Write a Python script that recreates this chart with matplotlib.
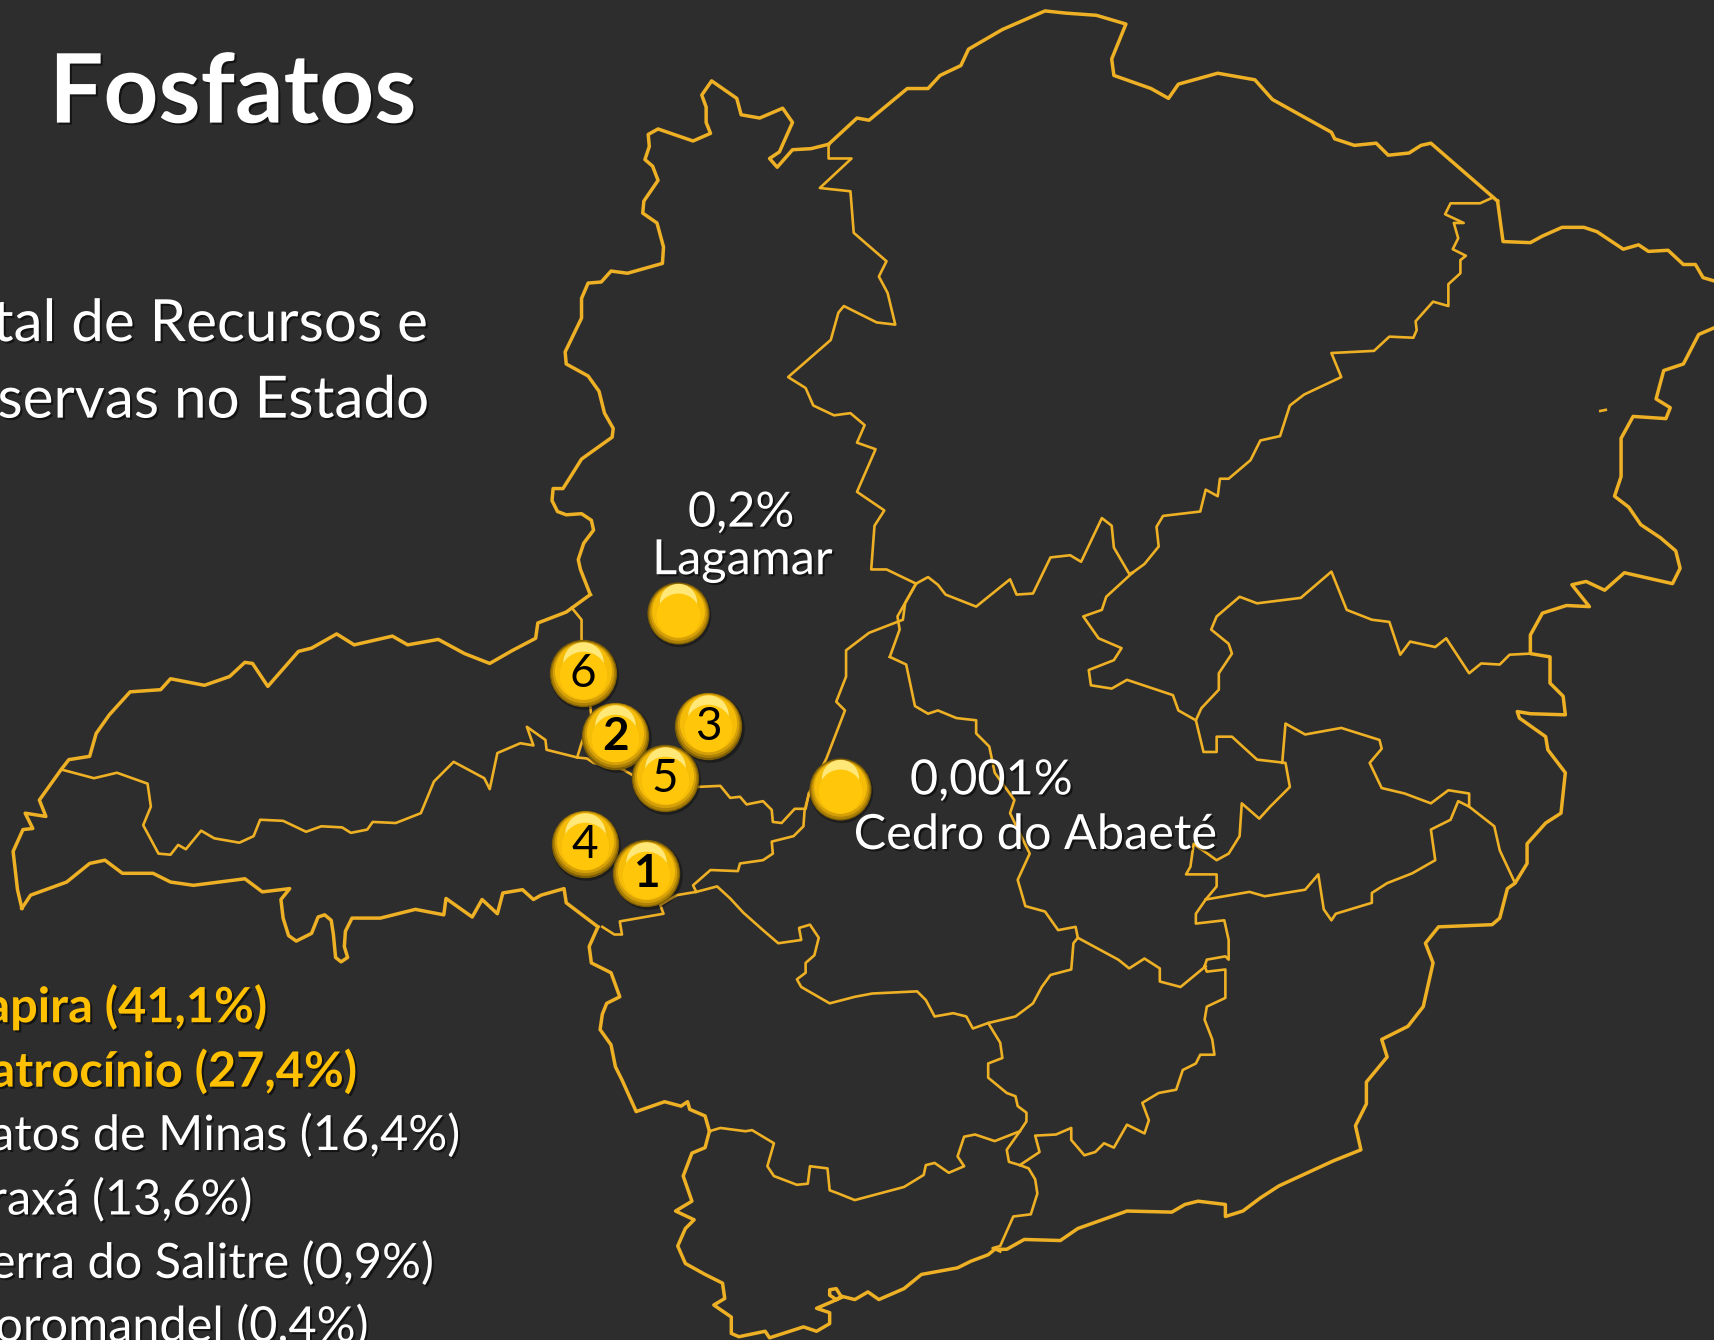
import matplotlib
matplotlib.use('Agg')
import matplotlib.pyplot as plt
import matplotlib.patheffects as pe

west_border = [(540,544),(531,521),(529,512),(534,497),(543,485),(541,476),(532,470),(518,471),(510,468),(505,458),(506,447),(515,447),(522,436),(532,420),(560,400),(561,392),(553,378),(548,358),(538,344),(518,333),(517,322),(532,291),(532,273),(538,259),(550,258),(559,248),(574,250),(606,241),(607,226),(601,204),(588,195),(589,184),(602,165),(597,152),(590,146),(594,134),(593,123),(602,118),(634,129),(650,122),(646,112),(646,98),(642,87),(651,74),(674,90),(678,105),(695,108),(716,99),(725,112),(713,139),(704,145),(711,153),(725,137),(742,136),(758,132)]
north_border = [(758,132),(784,108),(795,110),(830,81),(849,81),(860,69),(879,60),(886,45),(917,27),(956,10),(975,12),(1003,14),(1030,22),(1017,54),(1019,69),(1053,81),(1069,90),(1078,77),(1114,67),(1148,73),(1164,91),(1218,121),(1221,127),(1239,133),(1259,131),(1270,142),(1289,140),(1300,133),(1309,131),(1370,184)]
ne_border = [(1370,184),(1375,221),(1400,222),(1411,216),(1429,208),(1449,208),(1461,212),(1485,228),(1499,224),(1508,230),(1526,229),(1540,242),(1551,242),(1558,254),(1568,257)]
east_border = [(1568,300),(1554,306),(1540,333),(1522,339),(1515,365),(1528,373),(1524,383),(1494,381),(1483,401),(1483,436),(1477,454),(1490,464),(1501,480),(1519,492),(1533,504),(1537,520),(1530,534),(1486,524),(1468,540),(1451,532),(1438,535),(1454,555),(1433,554),(1411,561),(1400,581),(1400,598),(1418,601),(1418,625),(1430,637),(1432,654),(1400,653),(1388,651),(1390,657),(1414,674),(1416,686),(1432,707),(1428,744),(1414,753),(1397,772),(1397,790),(1386,808),(1379,813),(1372,840),(1365,846),(1316,848),(1304,863),(1311,881),(1302,921),(1288,939),(1264,951),(1269,967),(1250,990),(1250,1010),(1240,1030),(1245,1052),(1220,1062),(1170,1085),(1153,1096),(1137,1108),(1121,1113),(1121,1102),(1096,1099),(1084,1102),(1072,1109),(1031,1108),(986,1124),(970,1135),(937,1134),(921,1143),(910,1143)]
south_border = [(910,1143),(904,1148),(888,1154),(876,1160),(843,1166),(827,1179),(804,1189),(794,1182),(782,1189),(770,1186),(765,1189),(759,1185),(759,1180),(765,1179),(770,1187),(761,1191),(747,1197),(759,1201),(759,1211),(747,1218),(735,1214),(704,1224),(700,1218),(676,1223),(669,1220),(669,1205),(653,1194),(663,1188),(661,1174),(645,1166),(627,1156),(620,1140),(627,1124),(635,1116),(618,1108),(633,1099),(625,1076),(633,1055),(645,1050),(649,1035)]
sw_border = [(649,1035),(645,1021),(631,1015),(629,1008),(623,1012),(608,1008),(582,1017),(569,988),(563,976),(559,956),(549,942),(551,928),(555,918),(567,912),(559,890),(541,881),(539,866),(547,848)]
triangle_south = [(547,848),(518,826),(516,813),(495,819),(488,823),(478,814),(460,817),(455,836),(441,823),(432,839),(408,822),(406,837),(380,832),(348,840),(322,840),(316,852),(315,866),(318,876),(312,880),(307,876),(305,855),(303,842),(297,837),(291,839),(285,854),(271,861),(264,856),(259,840),(257,823),(265,813),(240,816),(224,804),(177,810),(156,807),(140,799),(112,799),(96,787),(82,790),(61,807),(28,819),(20,831)]
triangle_north = [(20,831),(16,814),(12,779),(21,759),(30,758),(23,744),(42,747),(36,732),(56,704),(63,695),(82,692),(88,671),(100,654),(119,633),(147,631),(156,621),(187,627),(210,619),(224,606),(231,607),(245,628),(273,596),(285,593),(308,580),(324,590),(359,582),(373,590),(401,585),(425,598),(448,607),(469,595),(490,584),(492,570),(518,560),(540,544)]
triangle_inner = [(56,704),(86,712),(107,707),(135,717),(138,738),(131,755),(145,781),(156,782),(163,773),(170,777),(184,760),(196,767),(219,771),(232,765),(238,750),(259,751),(280,761),(294,756),(313,757),(321,762),(336,759),(341,752),(362,753),(385,744),(397,715),(415,697),(443,712),(448,722),(455,689),(476,680),(488,682),(482,665),(499,677),(500,686),(528,693),(537,694),(543,698),(570,704),(580,710),(637,720),(659,719),(668,730),(677,729),(683,736),(698,733),(706,741),(707,752),(715,753),(727,740),(737,740),(740,726)]
triangle_branch = [(523,556),(532,567),(532,585),(540,646),(541,656),(532,680),(528,693)]
sao_francisco = [(838,534),(828,552),(826,567),(795,579),(774,595),(774,619),(765,642),(773,650),(756,694),(740,726),(736,742),(735,756),(726,765),(706,770),(707,781),(698,787),(677,790),(675,797),(650,796),(634,810),(637,816),(619,819),(604,828),(607,836),(567,843),(569,855),(562,855),(551,848)]
center_west = [(637,816),(656,811),(668,822),(680,835),(698,851),(712,863),(733,860),(731,849),(741,846),(749,858),(745,874),(737,881),(737,890),(729,896),(733,903),(759,918),(782,912),(798,909),(839,907),(847,915),(855,930),(872,927),(884,930),(890,941),(904,936),(929,930),(945,918),(953,903),(961,892),(980,887),(982,863),(986,858)]
south_divide = [(904,936),(915,954),(917,968),(904,973),(904,986),(921,1000),(929,1003),(931,1012),(939,1018),(939,1026),(933,1035),(921,1052),(923,1063),(933,1066),(941,1069),(947,1079),(949,1092),(943,1111),(927,1113),(915,1140),(908,1142),(915,1145)]
south_inner = [(649,1035),(659,1032),(682,1035),(688,1034),(708,1046),(702,1067),(708,1076),(729,1084),(739,1083),(741,1067),(757,1069),(759,1089),(767,1092),(782,1098),(827,1086),(845,1075),(847,1066),(855,1064),(868,1073),(882,1067),(876,1058),(882,1040),(892,1038),(910,1044),(933,1035)]
zona_mata = [(933,1066),(951,1054),(947,1039),(966,1038),(980,1032),(980,1043),(992,1057),(1002,1054),(1010,1046),(1019,1050),(1031,1029),(1047,1037),(1051,1025),(1045,1009),(1060,1000),(1076,997),(1082,979),(1094,973),(1098,965),(1111,965),(1109,951),(1102,933),(1104,921),(1121,913),(1121,887),(1104,889),(1102,884)]
center_east = [(814,601),(829,608),(837,646),(849,653),(858,650),(875,657),(893,659),(893,671),(905,683),(910,707),(928,732),(924,744),(942,781),(931,805),(938,829),(956,834),(968,851),(984,848),(986,858),(1023,878),(1033,886),(1047,877),(1061,886),(1061,898),(1080,903),(1103,884)]
center_east_top = [(838,534),(821,564),(823,576),(814,601)]
noroeste_east = [(758,132),(758,145),(779,145),(750,172),(778,175),(781,213),(811,239),(804,253),(812,268),(819,297),(802,295),(772,280),(767,286),(760,311),(721,345),(737,355),(744,371),(763,380),(778,378),(791,389),(784,405),(801,411),(784,450),(809,467),(800,481),(797,521),(811,521),(838,534)]
jequitinhonha_south = [(838,534),(849,528),(858,535),(865,544),(893,555),(924,530),(930,544),(945,543),(961,510),(979,508),(989,514),(1008,474),(1017,481),(1019,501),(1033,525),(1036,524)]
jequitinhonha_east = [(1036,524),(1047,516),(1060,500),(1058,482),(1064,472),(1098,468),(1103,448),(1114,454),(1116,438),(1124,438),(1144,421),(1153,403),(1171,399),(1180,371),(1193,361),(1227,345),(1218,323),(1257,321),(1271,308),(1293,309),(1296,302),(1295,294),(1311,276),(1325,280),(1325,260),(1336,250),(1336,238),(1341,234),(1329,228),(1334,218),(1330,204),(1339,204),(1322,196),(1327,186),(1354,186),(1365,181)]
central_east = [(1036,524),(1012,546),(1008,558),(991,564),(1005,584),(1026,593),(1019,604),(996,613),(998,627),(1017,630),(1031,622),(1073,636),(1078,650),(1094,659),(1101,688),(1113,688),(1113,674),(1127,674),(1150,695),(1176,698),(1180,720),(1162,738),(1152,749),(1136,735),(1134,765),(1124,781),(1113,787),(1092,772),(1089,793),(1085,800),(1113,800),(1113,811),(1103,823),(1094,836),(1094,845),(1120,842),(1124,860),(1124,878),(1121,875),(1104,878),(1102,884)]
doce_north = [(1094,659),(1099,648),(1115,631),(1115,616),(1127,598),(1124,589),(1108,576),(1113,564),(1134,546),(1150,552),(1190,547),(1218,523),(1232,558),(1255,567),(1271,569),(1281,599),(1290,587),(1313,592),(1323,584),(1344,616),(1355,607),(1372,608),(1381,599),(1400,598)]
doce_inner = [(1173,698),(1176,662),(1194,672),(1227,666),(1262,677),(1264,685),(1253,698),(1264,721),(1285,726),(1309,735),(1325,723),(1344,726),(1344,738),(1334,733),(1327,750),(1309,759),(1313,787),(1292,799),(1269,808),(1255,817),(1255,826),(1222,836),(1218,842),(1211,832),(1206,800),(1194,814),(1157,820),(1143,816),(1103,823)]
doce_east = [(1344,738),(1367,756),(1372,778),(1386,808)]
east_speck = [(1464,376),(1469,375)]

heavy_lines = [west_border, north_border, ne_border, east_border, south_border, sw_border, triangle_south, triangle_north]
thin_lines = [triangle_inner, triangle_branch, sao_francisco, center_west, south_divide, south_inner, zona_mata, center_east, center_east_top, noroeste_east, jequitinhonha_south, jequitinhonha_east, central_east, doce_north, doce_inner, doce_east, east_speck]

marker_labels = ['1', '2', '3', '4', '5', '6', '', '']
marker_x = [591, 563, 648, 535, 608, 533, 620, 768]
marker_y = [799, 673, 664, 772, 712, 616, 561, 722]
marker_bold = [True, True, False, False, False, False, False, False]
marker_big = [True, True, True, True, True, True, False, False]
# drawn in this order in the reference
marker_order = [6, 5, 2, 1, 4, 7, 3, 0]

list_names = ['Tapira (41,1%)', 'Patrocínio (27,4%)', 'Patos de Minas (16,4%)', 'Araxá (13,6%)', 'Serra do Salitre (0,9%)', 'Coromandel (0,4%)']
list_right = [245, 327, 421, 231, 397, 337]
list_y = [921, 980, 1039, 1098, 1156, 1214]
list_gold = [True, True, False, False, False, False]

BG = '#2D2D2D'
GOLD = '#EEB024'

plt.rcParams['font.family'] = ['Lato', 'DejaVu Sans']

fig = plt.figure(figsize=(17.14, 13.4), dpi=100, facecolor=BG)
ax = fig.add_axes([0, 0, 1, 1])
ax.set_xlim(0, 1568)
ax.set_ylim(1226, 0)
ax.axis('off')

for line in heavy_lines:
    ax.plot([p[0] for p in line], [p[1] for p in line], color=GOLD, lw=2.5, solid_joinstyle='round', zorder=2)
for line in thin_lines:
    ax.plot([p[0] for p in line], [p[1] for p in line], color=GOLD, lw=1.9, solid_joinstyle='round', zorder=2)

shadow = [pe.withSimplePatchShadow(offset=(1.5, -1.5), shadow_rgbFace='black', alpha=0.55)]

ax.text(45, 87, 'Fosfatos', color='white', fontsize=69, fontweight='bold', ha='left', va='center', path_effects=shadow, zorder=3)
ax.text(392, 297, 'Total de Recursos e', color='white', fontsize=42, ha='right', va='center', path_effects=shadow, zorder=3)
ax.text(393, 367, 'Reservas no Estado', color='white', fontsize=42, ha='right', va='center', path_effects=shadow, zorder=3)

for name, right, y, gold in zip(list_names, list_right, list_y, list_gold):
    ax.text(right, y, name, color='#FFC000' if gold else 'white', fontsize=35,
            fontweight='bold' if gold else 'normal', ha='right', va='center', path_effects=shadow, zorder=3)

ax.text(678, 469, '0,2%', color='white', fontsize=35, ha='center', va='center', path_effects=shadow, zorder=3)
ax.text(679, 513, 'Lagamar', color='white', fontsize=35, ha='center', va='center', path_effects=shadow, zorder=3)
ax.text(907, 714, '0,001%', color='white', fontsize=35, ha='center', va='center', path_effects=shadow, zorder=3)
ax.text(947, 764, 'Cedro do Abaeté', color='white', fontsize=35, ha='center', va='center', path_effects=shadow, zorder=3)

# bevelled ball: stacked discs from the dark rim to the bright centre
ring_scale = [1.0, 0.96, 0.91, 0.85]
ring_color = ['#7E5E05', '#AD8106', '#D59F07', '#F5BC08']
for z, i in enumerate(marker_order):
    big = marker_big[i]
    size = 2350 if big else 2000
    base = 4 + z * 0.1
    ax.scatter(marker_x[i] + 1.5, marker_y[i] + 2, s=size * 1.04, color='black', alpha=0.35, lw=0, zorder=base)
    for scale, col in zip(ring_scale, ring_color):
        ax.scatter(marker_x[i], marker_y[i] - (1 - scale) * 14, s=size * scale ** 2, color=col, lw=0, zorder=base)
    ax.scatter(marker_x[i], marker_y[i] - 10, s=size * 0.36, color='#FFE878', lw=0, zorder=base)
    ax.scatter(marker_x[i], marker_y[i] + 2, s=size * 0.50, color='#FFC60A', lw=0, zorder=base)
    if marker_labels[i]:
        ax.text(marker_x[i], marker_y[i] + 1, marker_labels[i], color='black', fontsize=33,
                fontweight='bold' if marker_bold[i] else 'normal', ha='center', va='center', zorder=base)

fig.savefig('out.png', dpi=100, facecolor=BG)
